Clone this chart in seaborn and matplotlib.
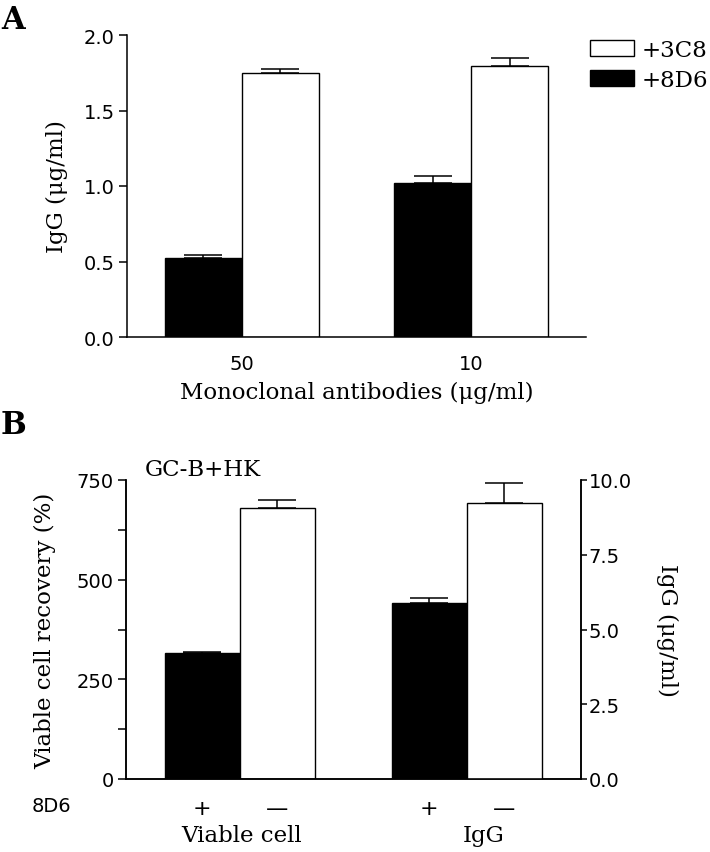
import numpy as np
import pandas as pd
import matplotlib
matplotlib.use("Agg")
import matplotlib.pyplot as plt
from matplotlib.patches import Patch
from matplotlib.ticker import MultipleLocator, FormatStrFormatter
import seaborn as sns

sns.set_style("ticks")
plt.rcParams["font.family"] = ["DejaVu Serif"]
plt.rcParams["axes.linewidth"] = 1.1
for k in ["text.color", "axes.labelcolor", "axes.edgecolor",
          "xtick.color", "ytick.color"]:
    plt.rcParams[k] = "black"

SANS = "DejaVu Sans"
LBL = 16.5   # serif label size
TCK = 14     # tick label size

# panel A: IgG with monoclonal antibodies
a_doses = ["50", "10"]
a_mabs = ["+8D6", "+3C8"]
a_igg_8d6 = [0.52, 1.02]
a_err_8d6 = [0.02, 0.045]
a_igg_3c8 = [1.75, 1.795]
a_err_3c8 = [0.025, 0.05]

# panel B: GC-B+HK, with / without 8D6
b_groups = ["Viable cell", "IgG"]
b_8d6 = ["+", "\u2014"]
b_recovery = [315, 679]        # viable cell recovery (%)
b_recovery_err = [4, 21]
b_igg = [5.88, 9.23]           # IgG (ug/ml)
b_igg_err = [0.17, 0.68]

palette = {"+8D6": "black", "+3C8": "white", "+": "black", "\u2014": "white"}

df_a = pd.DataFrame({
    "grp": a_doses * 2,
    "hue": [a_mabs[0]] * 2 + [a_mabs[1]] * 2,
    "val": a_igg_8d6 + a_igg_3c8,
    "err": a_err_8d6 + a_err_3c8,
})
df_b1 = pd.DataFrame({"grp": [b_groups[0]] * 2, "hue": b_8d6,
                      "val": b_recovery, "err": b_recovery_err})
df_b2 = pd.DataFrame({"grp": [b_groups[1]] * 2, "hue": b_8d6,
                      "val": b_igg, "err": b_igg_err})


def bars(ax, df, order, hue_order, width):
    sns.barplot(data=df, x="grp", y="val", hue="hue", order=order,
                hue_order=hue_order, palette=palette, width=width,
                edgecolor="black", linewidth=1.0, errorbar=None,
                legend=False, ax=ax)
    centers = []
    for p in ax.patches:
        cx = p.get_x() + p.get_width() / 2
        g = int(round(cx))
        h = 0 if cx < g else 1
        row = df[(df.grp == order[g]) & (df.hue == hue_order[h])]
        if row.empty:
            continue
        centers.append(cx)
        ax.errorbar(cx, row.val.iloc[0], yerr=[[0], [row.err.iloc[0]]],
                    color="black", lw=1.1, capsize=14, capthick=1.1,
                    zorder=1)
    ax.set_xlim(-0.5, 1.5)
    ax.set_xlabel("")
    ax.set_ylabel("")
    return centers


fig = plt.figure(figsize=(7.1, 8.53), dpi=100)

# ---------------- panel A ----------------
ax_a = fig.add_axes([127 / 710, 515 / 853, 459 / 710, 302 / 853])
bars(ax_a, df_a, a_doses, a_mabs, 0.672)
ax_a.set_ylim(0, 2.0)
ax_a.yaxis.set_major_locator(MultipleLocator(0.5))
ax_a.yaxis.set_major_formatter(FormatStrFormatter("%.1f"))
sns.despine(ax=ax_a)
ax_a.tick_params(axis="y", length=6, width=1.1, pad=3,
                 labelsize=TCK, labelfontfamily=SANS)
ax_a.tick_params(axis="x", length=0, pad=12, labelsize=TCK,
                 labelfontfamily=SANS)
ax_a.set_ylabel("IgG (\u03bcg/ml)", fontsize=LBL)
ax_a.yaxis.set_label_coords(-0.153, 0.5)
ax_a.yaxis.label.set_va("center")
ax_a.set_xlabel("Monoclonal antibodies (\u03bcg/ml)", fontsize=LBL)
ax_a.xaxis.set_label_coords(0.5, -0.182)
ax_a.xaxis.label.set_va("center")

handles = [Patch(facecolor=palette[m], edgecolor="black", lw=1.0)
           for m in a_mabs[::-1]]
fig.legend(handles, a_mabs[::-1], loc="upper left",
           bbox_to_anchor=(590 / 710, 1 - 40 / 853), frameon=False,
           fontsize=LBL, handlelength=1.9, handleheight=0.7,
           handletextpad=0.35, labelspacing=0.35, borderpad=0,
           borderaxespad=0)

fig.text(1 / 710, 1 - 5 / 853, "A", fontsize=22, fontweight="bold",
         ha="left", va="top")

# ---------------- panel B ----------------
ax_b = fig.add_axes([126 / 710, 73 / 853, 454.5 / 710, 299 / 853])
ax_b2 = ax_b.twinx()
c1 = bars(ax_b, df_b1, b_groups, b_8d6, 0.66)
c2 = bars(ax_b2, df_b2, b_groups, b_8d6, 0.66)
ax_b.set_ylim(0, 750)
ax_b2.set_ylim(0, 10)
ax_b2.set_xlim(-0.5, 1.5)
ax_b.yaxis.set_major_locator(MultipleLocator(250))
ax_b.yaxis.set_minor_locator(MultipleLocator(125))
ax_b2.yaxis.set_major_locator(MultipleLocator(2.5))
ax_b2.yaxis.set_major_formatter(FormatStrFormatter("%.1f"))
for ax in (ax_b, ax_b2):
    ax.spines["top"].set_visible(False)
ax_b.tick_params(axis="y", which="both", length=6, width=1.1, pad=3,
                 labelsize=TCK, labelfontfamily=SANS)
ax_b2.tick_params(axis="y", length=4, width=1.1, pad=2,
                  labelsize=TCK, labelfontfamily=SANS)

ticks = sorted(c1 + c2)
ax_b.set_xticks(ticks)
ax_b.set_xticklabels(b_8d6 * 2)
ax_b.tick_params(axis="x", length=0, pad=14, labelsize=TCK + 2,
                 labelfontfamily=SANS)
ax_b2.tick_params(axis="x", length=0)

for i, g in enumerate(b_groups):
    ax_b.text(i + (0.075 if i else 0.01), -0.186, g, fontsize=LBL,
              ha="center", va="center",
              transform=ax_b.get_xaxis_transform())
fig.text(51 / 710, 1 - 807 / 853, "8D6", fontsize=TCK, family=SANS,
         ha="center", va="center")

ax_b.set_ylabel("Viable cell recovery (%)", fontsize=LBL)
ax_b.yaxis.set_label_coords(-0.178, 0.5)
ax_b.yaxis.label.set_va("center")
ax_b2.set_ylabel("IgG (\u03bcg/ml)", fontsize=LBL, rotation=270)
ax_b2.yaxis.set_label_coords(1.19, 0.5)
ax_b2.yaxis.label.set_va("center")
ax_b2.yaxis.label.set_ha("center")

ax_b.text(0.042, 1.037, "GC-B+HK", fontsize=LBL, ha="left", va="center",
          transform=ax_b.transAxes)
fig.text(1 / 710, 1 - 410 / 853, "B", fontsize=22, fontweight="bold",
         ha="left", va="top")

fig.savefig("out.png", dpi=100)
